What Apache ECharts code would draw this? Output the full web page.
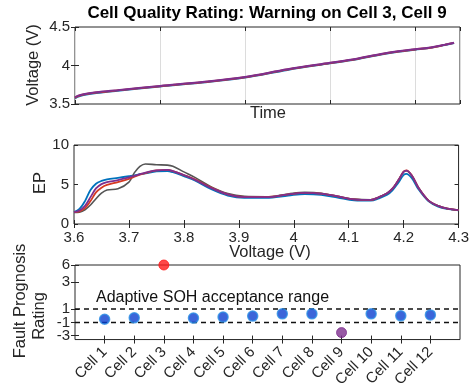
<!DOCTYPE html>
<html>
<head>
<meta charset="utf-8">
<script src="https://cdn.jsdelivr.net/npm/echarts@6/dist/echarts.min.js"></script>
<style>html,body{margin:0;padding:0;background:#fff}#c{width:472px;height:390px}</style>
</head>
<body>
<div id="c"></div>
<script>
// ---------- DATA ----------
// Top panel: voltage vs time
const timeVals = [0, 0.03, 0.1, 0.25, 0.5, 1, 1.5, 2, 2.5, 3, 3.3, 3.6, 3.8, 4.0, 4.2, 4.35, 4.46];
const voltBlue   = [3.572, 3.592, 3.616, 3.642, 3.672, 3.728, 3.779, 3.843, 3.943, 4.028, 4.078, 4.143, 4.179, 4.205, 4.232, 4.266, 4.292];
const voltRed    = [3.580, 3.600, 3.623, 3.648, 3.677, 3.732, 3.782, 3.847, 3.947, 4.032, 4.082, 4.147, 4.182, 4.208, 4.235, 4.268, 4.294];
const voltPurple = [3.586, 3.606, 3.628, 3.652, 3.680, 3.735, 3.785, 3.850, 3.950, 4.035, 4.085, 4.150, 4.185, 4.210, 4.237, 4.270, 4.296];

// Middle panel: EP vs voltage
const epVolt = [3.60, 3.61, 3.62, 3.63, 3.64, 3.65, 3.66, 3.68, 3.70, 3.71, 3.72, 3.73, 3.75, 3.77, 3.78, 3.80, 3.82, 3.85, 3.88, 3.91, 3.95, 3.99, 4.02, 4.05, 4.08, 4.11, 4.14, 4.155, 4.17, 4.18, 4.19, 4.20, 4.205, 4.215, 4.227, 4.245, 4.263, 4.28, 4.30];
const epBlue   = [1.5, 1.9, 2.9, 4.3, 5.1, 5.45, 5.65, 5.85, 6.05, 6.15, 6.3, 6.4, 6.65, 6.7, 6.55, 6.05, 5.5, 4.4, 3.6, 3.3, 3.3, 3.6, 3.8, 3.7, 3.35, 3.0, 2.95, 3.25, 3.7, 4.3, 5.2, 6.2, 6.35, 5.8, 4.4, 2.9, 2.2, 1.9, 1.72];
const epGray   = [1.45, 1.5, 1.8, 2.4, 3.2, 3.9, 4.3, 4.45, 5.3, 6.5, 7.3, 7.6, 7.5, 7.45, 7.3, 6.6, 5.9, 4.7, 3.85, 3.5, 3.45, 3.8, 4.0, 3.9, 3.5, 3.15, 3.05, 3.4, 3.9, 4.5, 5.5, 6.6, 6.75, 6.1, 4.6, 3.0, 2.3, 1.95, 1.75];
const epRed    = [1.5, 1.6, 2.0, 2.9, 4.0, 4.6, 4.95, 5.3, 5.7, 6.0, 6.25, 6.45, 6.8, 6.85, 6.7, 6.2, 5.65, 4.6, 3.75, 3.42, 3.42, 3.75, 3.95, 3.85, 3.5, 3.12, 3.05, 3.4, 3.9, 4.5, 5.5, 6.65, 6.8, 6.15, 4.6, 3.0, 2.3, 1.95, 1.75];
const epPurple = [1.5, 1.7, 2.3, 3.4, 4.5, 5.05, 5.3, 5.55, 5.9, 6.1, 6.3, 6.5, 6.8, 6.85, 6.7, 6.2, 5.6, 4.55, 3.75, 3.4, 3.4, 3.75, 3.95, 3.85, 3.5, 3.12, 3.05, 3.4, 3.9, 4.5, 5.5, 6.6, 6.75, 6.1, 4.6, 3.0, 2.3, 1.95, 1.75];

// Bottom panel: fault prognosis rating per cell
const cellNames = ['Cell 1','Cell 2','Cell 3','Cell 4','Cell 5','Cell 6','Cell 7','Cell 8','Cell 9','Cell 10','Cell 11','Cell 12'];
const ratings = [-0.5, -0.3, 6, -0.33, -0.19, -0.04, 0.29, 0.29, -2.55, 0.29, 0, 0.14];
const acceptanceBounds = [-1, 1];
const ratingTickLabels = [-3, -1, 1, 3, 6];

// ---------- SCALE for the non-uniform rating axis ----------
const ratingTickPos = [4.2, 17.5, 31.5, 59.2, 77];
const ratingAxisMax = 77;
function toAxis(v) {
  const T = ratingTickLabels, P = ratingTickPos;
  let i = 0;
  if (v <= T[0]) i = 0;
  else if (v >= T[T.length - 1]) i = T.length - 2;
  else { while (v > T[i + 1]) i++; }
  return P[i] + (v - T[i]) * (P[i + 1] - P[i]) / (T[i + 1] - T[i]);
}

// ---------- STYLE ----------
const FONT = 'Liberation Sans, Arial, sans-serif';
const TXT = '#262626';
const C_BLUE = '#0072BD', C_RED = '#D63A22', C_PURPLE = '#7E2F8E', C_GRAY = '#555555';

const zip = (xs, ys) => xs.map((x, i) => [x, ys[i]]);
const gridStyle = { show: true, borderColor: TXT, borderWidth: 1, backgroundColor: '#fff' };
const tickIn = { show: true, inside: true, length: 4, lineStyle: { color: TXT, width: 1 } };
const noLine = { show: false };
const lblStyle = { color: TXT, fontFamily: FONT, fontSize: 15 };

function secondaryX(grid, min, max, interval, extra) {
  return Object.assign({ type: 'value', gridIndex: grid, position: 'top', min, max, interval,
    axisLine: noLine, axisTick: tickIn, axisLabel: { show: false }, splitLine: { show: false } }, extra || {});
}
function secondaryY(grid, min, max, interval, extra) {
  return Object.assign({ type: 'value', gridIndex: grid, position: 'right', min, max, interval,
    axisLine: noLine, axisTick: tickIn, axisLabel: { show: false }, splitLine: { show: false } }, extra || {});
}

const cellIdx = cellNames.map((_, i) => i + 1);
const ratingTickAxis = ratingTickLabels.map(toAxis);
// split rating labels over two left axes so tightly spaced labels are all shown
const ratingLabelSetA = ratingTickLabels.filter((_, i) => i % 2 === 0);
const ratingLabelSetB = ratingTickLabels.filter((_, i) => i % 2 === 1);
function ratingLabelAxis(labels, withTicks) {
  const vals = labels.map(toAxis);
  return { type: 'value', gridIndex: 2, position: 'left', offset: 0, min: 0, max: ratingAxisMax, axisLine: noLine,
    axisTick: withTicks ? Object.assign({ customValues: ratingTickAxis }, tickIn) : { show: false },
    axisLabel: Object.assign({ margin: 5, customValues: vals, hideOverlap: false, showMinLabel: true, showMaxLabel: true,
      formatter: v => { let b = 0; vals.forEach((p, i) => { if (Math.abs(p - v) < Math.abs(vals[b] - v)) b = i; }); return String(labels[b]); } }, lblStyle),
    splitLine: { show: false } };
}

function lineSeries(xi, yi, data, color, w) {
  return { type: 'line', xAxisIndex: xi, yAxisIndex: yi, data, showSymbol: false, symbol: 'none',
    smooth: 0.35, lineStyle: { color, width: w || 2 }, z: 3, silent: true };
}
function dotStyle(r) {
  if (r > acceptanceBounds[1]) return { color: '#FF1A1A', borderColor: '#FF1A1A', borderWidth: 1 };
  if (r < acceptanceBounds[0]) return { color: C_PURPLE, borderColor: C_PURPLE, borderWidth: 1 };
  return { color: '#0B3FCF', borderColor: '#2C8FE3', borderWidth: 1.5 };
}

const option = {
  animation: false,
  grid: [
    Object.assign({ left: 75, top: 27, width: 385, height: 77 }, gridStyle),
    Object.assign({ left: 74, top: 145, width: 386, height: 79 }, gridStyle),
    Object.assign({ left: 75, top: 265, width: 385, height: 77 }, gridStyle)
  ],
  xAxis: [
    { type: 'value', gridIndex: 0, min: 0, max: 4.53, interval: 1, axisLine: noLine, axisTick: tickIn,
      axisLabel: { show: false }, splitLine: { show: true, lineStyle: { color: '#dcdcdc', width: 1 } } },
    secondaryX(0, 0, 4.53, 1),
    { type: 'value', gridIndex: 1, min: 3.6, max: 4.3, interval: 0.1, axisLine: noLine, axisTick: tickIn,
      axisLabel: Object.assign({ margin: 6, formatter: v => String(+v.toFixed(1)) }, lblStyle), splitLine: { show: false } },
    secondaryX(1, 3.6, 4.3, 0.1),
    { type: 'value', gridIndex: 2, min: 0, max: 13, interval: 1, axisLine: noLine,
      axisTick: Object.assign({ customValues: cellIdx }, tickIn),
      axisLabel: Object.assign({ customValues: cellIdx, rotate: 45, margin: 10, hideOverlap: false,
        formatter: v => cellNames[Math.round(v) - 1] || '' }, lblStyle, { fontSize: 15 }),
      splitLine: { show: false } },
    secondaryX(2, 0, 13, 1, { axisTick: Object.assign({ customValues: cellIdx }, tickIn) })
  ],
  yAxis: [
    { type: 'value', gridIndex: 0, min: 3.5, max: 4.5, interval: 0.5, axisLine: noLine, axisTick: tickIn,
      axisLabel: Object.assign({ margin: 5 }, lblStyle), splitLine: { show: false } },
    secondaryY(0, 3.5, 4.5, 0.5),
    { type: 'value', gridIndex: 1, min: 0, max: 10, interval: 5, axisLine: noLine, axisTick: tickIn,
      axisLabel: Object.assign({ margin: 5 }, lblStyle), splitLine: { show: false } },
    secondaryY(1, 0, 10, 5),
    ratingLabelAxis(ratingLabelSetA, true),
    secondaryY(2, 0, ratingAxisMax, null, { axisTick: Object.assign({ customValues: ratingTickAxis }, tickIn) }),
    ratingLabelAxis(ratingLabelSetB, false)
  ],
  series: [
    lineSeries(0, 0, zip(timeVals, voltBlue), C_BLUE),
    lineSeries(0, 0, zip(timeVals, voltRed), C_RED),
    lineSeries(0, 0, zip(timeVals, voltPurple), C_PURPLE),
    lineSeries(2, 2, zip(epVolt, epBlue), C_BLUE, 1.8),
    lineSeries(2, 2, zip(epVolt, epGray), C_GRAY, 1.6),
    lineSeries(2, 2, zip(epVolt, epRed), C_RED, 1.8),
    lineSeries(2, 2, zip(epVolt, epPurple), C_PURPLE, 1.8),
    ...acceptanceBounds.map(b => ({
      type: 'line', xAxisIndex: 4, yAxisIndex: 4, data: [[0, toAxis(b)], [13, toAxis(b)]],
      showSymbol: false, symbol: 'none', silent: true, z: 2,
      lineStyle: { color: '#111', width: 1.5, type: [5, 4] }
    })),
    {
      type: 'scatter', xAxisIndex: 4, yAxisIndex: 4, clip: false, z: 5, silent: true,
      data: cellIdx.map((c, i) => ({ value: [c, toAxis(ratings[i])], itemStyle: dotStyle(ratings[i]) })),
      symbolSize: 10
    }
  ],
  graphic: [
    { type: 'text', x: 267, y: 13, style: { text: 'Cell Quality Rating: Warning on Cell 3, Cell 9', fontFamily: FONT, fontSize: 17, fontWeight: 'bold', fill: '#000', align: 'center', verticalAlign: 'middle' } },
    { type: 'text', x: 33, y: 65, rotation: Math.PI / 2, style: { text: 'Voltage (V)', fontFamily: FONT, fontSize: 16.5, fill: TXT, align: 'center', verticalAlign: 'middle' } },
    { type: 'text', x: 268, y: 113, style: { text: 'Time', fontFamily: FONT, fontSize: 16.5, fill: TXT, align: 'center', verticalAlign: 'middle' } },
    { type: 'text', x: 40, y: 183, rotation: Math.PI / 2, style: { text: 'EP', fontFamily: FONT, fontSize: 16.5, fill: TXT, align: 'center', verticalAlign: 'middle' } },
    { type: 'text', x: 270, y: 252, style: { text: 'Voltage (V)', fontFamily: FONT, fontSize: 16.5, fill: TXT, align: 'center', verticalAlign: 'middle' } },
    { type: 'text', x: 20, y: 301, rotation: Math.PI / 2, style: { text: 'Fault Prognosis', fontFamily: FONT, fontSize: 16.5, fill: TXT, align: 'center', verticalAlign: 'middle' } },
    { type: 'text', x: 39, y: 316, rotation: Math.PI / 2, style: { text: 'Rating', fontFamily: FONT, fontSize: 16.5, fill: TXT, align: 'center', verticalAlign: 'middle' } },
    { type: 'text', x: 96, y: 298, z: 10, style: { text: 'Adaptive SOH acceptance range', fontFamily: FONT, fontSize: 16, fill: '#111', align: 'left', verticalAlign: 'middle' } }
  ]
};

const chart = echarts.init(document.getElementById('c'), null, { renderer: 'canvas' });
chart.setOption(option);
</script>
</body>
</html>
